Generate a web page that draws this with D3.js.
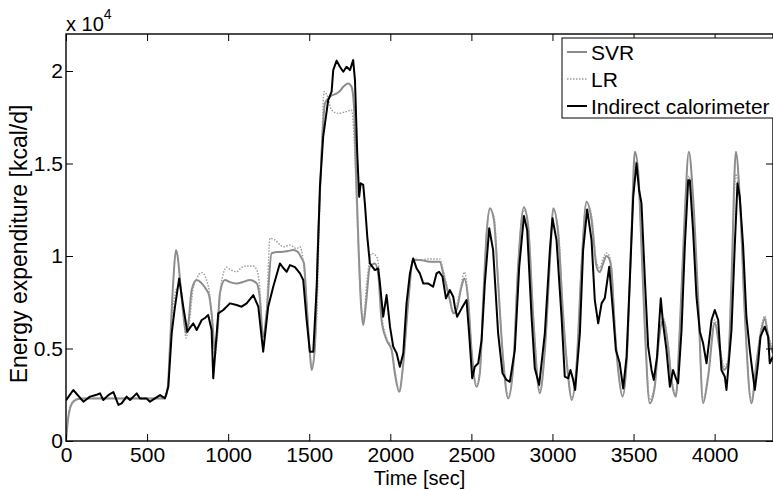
<!DOCTYPE html>
<html>
<head>
<meta charset="utf-8">
<script src="https://cdn.jsdelivr.net/npm/d3@7"></script>
<style>
    html, body { margin: 0; padding: 0; background: #fff; }
    svg { display: block; font-family: "Liberation Sans", Arial, Helvetica, sans-serif; }
</style>
</head>
<body>
<div id="chart"></div>
<script>
(function (d3) {
    'use strict';

    // x ticks (time, sec) and y ticks (kcal/d, shown as x 10^4)
    var xTicks = [0, 500, 1000, 1500, 2000, 2500, 3000, 3500, 4000];
    var yTicks = [0, 5000, 10000, 15000, 20000];
    var yTickLabels = ['0', '0.5', '1', '1.5', '2'];

    // [time, value]
    var svr = [[0,0],[12,1135],[25,1780],[43,2100],[74,2270],[117,2300],[600,2300],[616,2430],[629,3030],[641,5100],[662,8700],[678,10320],[690,9890],[703,8700],[723,6900],[740,5820],[755,6380],[775,8160],[806,8700],[837,8520],[867,8160],[882,7890],[898,6900],[919,4918],[934,6000],[949,7980],[980,8700],[1011,8590],[1052,8520],[1091,8590],[1134,8700],[1176,8520],[1193,7890],[1216,5640],[1237,6920],[1268,10150],[1301,10215],[1340,10230],[1369,10270],[1401,10320],[1430,10215],[1453,9870],[1467,9620],[1484,7440],[1504,4740],[1515,3840],[1535,5100],[1555,11040],[1576,15550],[1597,18250],[1628,18610],[1669,18790],[1689,18920],[1710,19150],[1740,19330],[1761,19150],[1776,18070],[1788,14650],[1802,11040],[1819,7440],[1833,6270],[1850,7440],[1874,9420],[1905,9600],[1925,9060],[1946,6540],[1977,5460],[2008,4920],[2028,3660],[2055,2665],[2080,4200],[2110,7440],[2141,9780],[2182,9780],[2244,9690],[2306,9690],[2326,9060],[2367,7620],[2388,6900],[2408,7080],[2439,8340],[2456,8790],[2480,7620],[2501,4920],[2532,2935],[2552,3660],[2573,7620],[2594,11230],[2614,12580],[2639,11945],[2665,8520],[2696,4380],[2727,2300],[2758,4015],[2788,9420],[2824,12630],[2850,11580],[2881,6720],[2922,2580],[2953,4920],[2988,10320],[3004,12580],[3035,11230],[3066,6720],[3097,3475],[3118,2215],[3148,4015],[3179,9420],[3210,12935],[3241,11945],[3272,9420],[3292,9130],[3313,9600],[3333,10000],[3348,9890],[3364,9240],[3385,6000],[3405,3840],[3432,2395],[3457,4200],[3488,11400],[3508,15640],[3528,14650],[3549,10500],[3570,6000],[3600,2040],[3631,2935],[3652,5100],[3682,6540],[3713,5100],[3734,3300],[3761,2395],[3785,6000],[3816,12300],[3841,15640],[3867,13200],[3898,7800],[3929,2040],[3960,3475],[4001,6360],[4032,4920],[4057,3840],[4083,4200],[4104,8700],[4131,15640],[4155,13200],[4186,6900],[4227,2040],[4258,4200],[4289,6000],[4309,6630],[4330,5640],[4359,4740]];

    var lr = [[0,100],[12,1200],[25,1800],[43,2150],[74,2290],[117,2310],[600,2310],[616,2430],[629,3030],[641,5100],[666,7620],[690,8380],[703,8540],[721,7350],[740,5570],[758,6220],[783,8160],[808,8810],[837,9100],[867,8700],[882,8160],[898,6900],[919,4650],[937,6000],[956,8430],[991,9390],[1017,9240],[1052,9150],[1079,9350],[1114,9460],[1153,9460],[1177,9240],[1196,8160],[1216,5280],[1237,7080],[1258,10960],[1289,10860],[1340,10500],[1381,10590],[1422,10400],[1443,10500],[1463,9730],[1484,7620],[1504,4740],[1515,4015],[1546,6540],[1566,13030],[1578,16270],[1592,18880],[1609,18700],[1638,17890],[1679,17710],[1720,17780],[1761,17890],[1776,16450],[1792,12850],[1813,8340],[1833,6540],[1856,8700],[1885,10145],[1916,9960],[1936,8700],[1948,6810],[1977,5570],[2008,5030],[2028,3840],[2055,2700],[2080,4200],[2110,7620],[2141,9870],[2182,9780],[2244,9840],[2306,9840],[2326,9240],[2367,7730],[2388,7030],[2408,7300],[2439,8540],[2456,9130],[2480,7840],[2501,4920],[2532,3030],[2552,3730],[2573,7620],[2594,11300],[2614,12490],[2639,12160],[2665,8700],[2696,4500],[2727,2430],[2758,4050],[2788,9510],[2824,12490],[2850,11840],[2881,6970],[2922,2700],[2953,4920],[2988,10430],[3004,12490],[3035,11510],[3066,6970],[3097,3570],[3118,2320],[3148,4110],[3179,9510],[3210,12860],[3241,12220],[3272,9680],[3292,9350],[3313,9890],[3333,10160],[3348,10050],[3364,9350],[3385,6270],[3405,3950],[3432,2490],[3457,4270],[3488,11130],[3508,15080],[3528,14380],[3549,10430],[3570,6270],[3600,2220],[3631,3135],[3652,5350],[3682,6650],[3713,5300],[3734,3510],[3761,2540],[3785,6000],[3816,11670],[3841,14320],[3867,12490],[3898,7620],[3929,2220],[3960,3620],[4001,6540],[4032,5130],[4057,4050],[4083,4380],[4104,8430],[4131,14430],[4155,12760],[4186,6810],[4227,2220],[4258,4380],[4289,6220],[4309,6760],[4330,5840],[4359,4920]];

    var calorimeter = [[0,2200],[45,2757],[107,2125],[148,2400],[189,2500],[210,2575],[230,2215],[261,2480],[292,2650],[323,1950],[343,2030],[374,2400],[395,2215],[436,2575],[456,2300],[497,2300],[518,2125],[580,2480],[610,2300],[631,2935],[652,5840],[672,7260],[698,8790],[723,7260],[748,5910],[764,6110],[785,6360],[806,6000],[837,6540],[857,6650],[877,6810],[898,6000],[908,3389],[939,6900],[970,7080],[1011,7440],[1052,7350],[1083,7260],[1114,7440],[1155,7890],[1186,7260],[1216,4826],[1247,7260],[1278,8340],[1319,9600],[1340,9350],[1361,9150],[1381,9510],[1412,9400],[1443,9060],[1463,8700],[1484,6540],[1504,4830],[1525,4830],[1546,8340],[1566,13745],[1586,16450],[1617,18430],[1638,18880],[1648,20050],[1669,20560],[1689,20230],[1710,19960],[1730,20230],[1751,20050],[1771,20590],[1782,19510],[1796,15550],[1808,13200],[1817,13930],[1833,13840],[1843,12860],[1858,11040],[1874,9600],[1905,9240],[1925,9330],[1936,8520],[1956,6720],[1977,7890],[1998,6180],[2018,5100],[2039,4740],[2059,4015],[2080,4740],[2100,7440],[2121,9060],[2141,9870],[2162,9330],[2182,9060],[2203,8520],[2232,8520],[2264,8340],[2285,9060],[2301,9150],[2322,8880],[2343,7710],[2367,8160],[2388,7800],[2398,7260],[2412,6720],[2440,7170],[2470,7620],[2486,5820],[2505,3389],[2521,4015],[2542,4200],[2563,5460],[2583,8520],[2610,11500],[2634,10320],[2665,5820],[2692,3660],[2717,3300],[2737,3200],[2768,4920],[2795,9420],[2824,12160],[2844,11400],[2871,6720],[2891,3930],[2918,3030],[2953,5820],[2984,10320],[3000,12040],[3025,10860],[3056,6720],[3076,3475],[3097,3390],[3111,3840],[3128,3300],[3140,2757],[3169,5820],[3189,10320],[3214,12520],[3241,10860],[3261,7620],[3282,6360],[3303,7440],[3323,7730],[3350,9420],[3374,6900],[3391,4920],[3415,4200],[3436,2850],[3457,4560],[3477,8700],[3498,13200],[3518,15010],[3534,13570],[3549,12850],[3570,8700],[3590,5100],[3611,3840],[3625,3300],[3645,4560],[3658,6360],[3668,7710],[3682,6360],[3703,4920],[3724,2935],[3744,3840],[3761,3390],[3775,3120],[3796,6000],[3816,10500],[3837,14100],[3847,14100],[3867,11400],[3888,7800],[3909,5910],[3929,5280],[3950,4200],[3981,6540],[4001,7080],[4022,6540],[4042,3840],[4063,3475],[4073,2757],[4104,6000],[4124,10500],[4141,13930],[4155,13200],[4176,10500],[4196,6720],[4217,4920],[4227,4200],[4248,2757],[4268,4200],[4283,5640],[4309,6180],[4330,5640],[4340,4200],[4359,4560]];

    var legendNames = ['SVR', 'LR', 'Indirect calorimeter'];

    var width = 773, height = 490,
        left = 66, right = 773, top = 34, bottom = 441,
        font = 21;

    var svg = d3.select('#chart')
        .append('svg')
        .attr('width', width)
        .attr('height', height);

    var x = d3.scaleLinear().domain([0, 4360]).range([left, right]),
        y = d3.scaleLinear().domain([0, 22000]).range([bottom, top]);

    svg.append('clipPath')
        .attr('id', 'plot-clip')
        .append('rect')
        .attr('x', left)
        .attr('y', top)
        .attr('width', right - left)
        .attr('height', bottom - top);

    // series styles, drawn in legend order
    var series = [
        { name: legendNames[0], data: svr, stroke: '#8c8c8c', width: 2, dash: null, curve: d3.curveMonotoneX },
        { name: legendNames[1], data: lr, stroke: '#9a9a9a', width: 1.4, dash: '1.5,1.5', curve: d3.curveMonotoneX },
        { name: legendNames[2], data: calorimeter, stroke: '#000', width: 2, dash: null, curve: d3.curveLinear }
    ];

    var plot = svg.append('g').attr('clip-path', 'url(#plot-clip)');

    series.forEach(function (s) {
        var line = d3.line()
            .x(function (d) { return x(d[0]); })
            .y(function (d) { return y(d[1]); })
            .curve(s.curve);

        plot.append('path')
            .datum(s.data)
            .attr('fill', 'none')
            .attr('stroke', s.stroke)
            .attr('stroke-width', s.width)
            .attr('stroke-dasharray', s.dash)
            .attr('stroke-linejoin', 'round')
            .attr('d', line);
    });

    // axes, ticks pointing inward (box on all four sides)
    function styleAxis(g) {
        g.attr('font-family', null).attr('font-size', null);
        g.select('.domain').remove();
        g.selectAll('.tick line').attr('stroke', '#000').attr('stroke-width', 1);
        g.selectAll('.tick text').attr('fill', '#000').style('font-size', font + 'px');
    }

    svg.append('g')
        .attr('transform', 'translate(0,' + bottom + ')')
        .call(d3.axisBottom(x).tickValues(xTicks).tickSize(-7).tickSizeOuter(0).tickPadding(6).tickFormat(d3.format('d')))
        .call(styleAxis);

    svg.append('g')
        .attr('transform', 'translate(0,' + top + ')')
        .call(d3.axisTop(x).tickValues(xTicks).tickSize(-7).tickSizeOuter(0).tickFormat(''))
        .call(styleAxis);

    svg.append('g')
        .attr('transform', 'translate(' + left + ',0)')
        .call(d3.axisLeft(y).tickValues(yTicks).tickSize(-7).tickSizeOuter(0).tickPadding(3)
            .tickFormat(function (d, i) { return yTickLabels[i]; }))
        .call(styleAxis);

    svg.append('g')
        .attr('transform', 'translate(' + right + ',0)')
        .call(d3.axisRight(y).tickValues(yTicks).tickSize(-7).tickSizeOuter(0).tickFormat(''))
        .call(styleAxis);

    svg.append('rect')
        .attr('x', left)
        .attr('y', top)
        .attr('width', right - left)
        .attr('height', bottom - top)
        .attr('fill', 'none')
        .attr('stroke', '#000')
        .attr('stroke-width', 1.4);

    // exponent label
    var expo = svg.append('text')
        .attr('x', left)
        .attr('y', 31)
        .style('font-size', '20px');
    expo.append('tspan').text('x 10');
    expo.append('tspan')
        .attr('dy', -12)
        .style('font-size', '14px')
        .text('4');

    svg.append('text')
        .attr('x', (left + right) / 2)
        .attr('y', 485)
        .attr('text-anchor', 'middle')
        .style('font-size', '20px')
        .text('Time [sec]');

    svg.append('text')
        .attr('transform', 'translate(27,244) rotate(-90)')
        .attr('text-anchor', 'middle')
        .style('font-size', '23px')
        .text('Energy expenditure [kcal/d]');

    // legend
    var legend = svg.append('g');

    legend.append('rect')
        .attr('x', 562)
        .attr('y', 38)
        .attr('width', 215)
        .attr('height', 80)
        .attr('fill', '#fff')
        .attr('stroke', '#000')
        .attr('stroke-width', 1);

    series.forEach(function (s, i) {
        var ly = 52 + i * 27;
        legend.append('line')
            .attr('x1', 567)
            .attr('x2', 587)
            .attr('y1', ly)
            .attr('y2', ly)
            .attr('stroke', s.stroke)
            .attr('stroke-width', s.width)
            .attr('stroke-dasharray', s.dash);
        legend.append('text')
            .attr('x', 591)
            .attr('y', ly)
            .attr('dy', '0.36em')
            .style('font-size', font + 'px')
            .text(s.name);
    });

})(d3);
</script>
</body>
</html>
